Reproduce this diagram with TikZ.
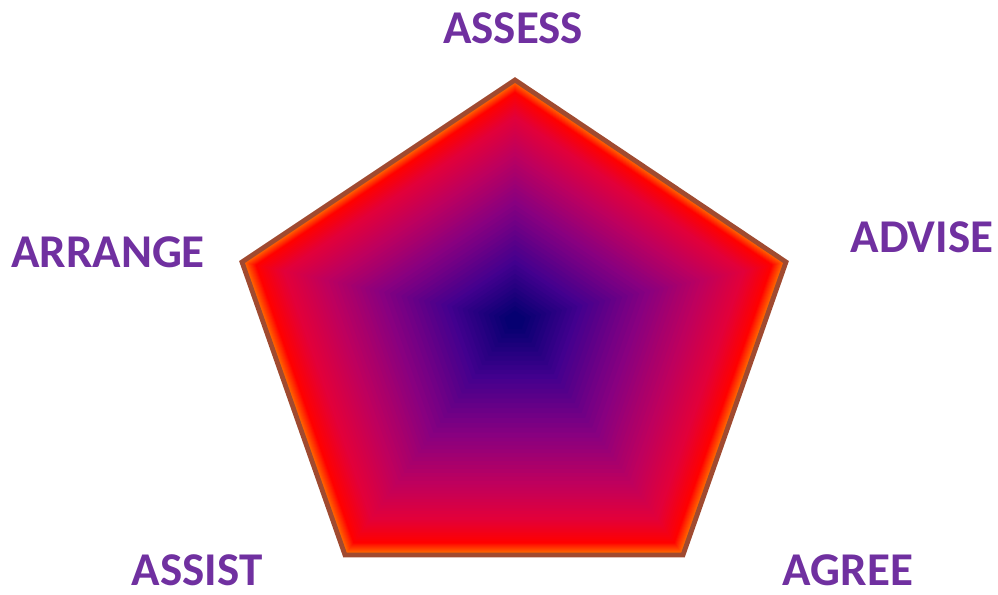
\documentclass[tikz,border=0pt]{standalone}
\usepackage{fontspec}
\setmainfont{Carlito}
\usetikzlibrary{calc}
\definecolor{plum}{HTML}{7030A0}
\definecolor{rust}{HTML}{A04A30}
\definecolor{glow}{HTML}{FF7A00}
\definecolor{flame}{HTML}{FF0000}
\definecolor{crimson}{HTML}{E2003A}
\definecolor{berry}{HTML}{BE005E}
\definecolor{grape}{HTML}{880080}
\definecolor{indigo}{HTML}{42008E}
\definecolor{midnight}{HTML}{00006E}
\tikzset{
  labeltext/.style={
    text=plum, font=\fontsize{23.5}{27}\selectfont\bfseries,
    inner sep=0pt, anchor=center
  },
  rimline/.style={
    draw=rust, line width=2.4pt, line join=miter
  },
}
% pentagon relative to its dark centre
\newcommand{\pentapath}{(0,-240) -- (271,-58) -- (168,235) -- (-170,235) -- (-273,-58) -- cycle}

\begin{document}
\begin{tikzpicture}[x=0.5pt, y=-0.5pt]
  \useasboundingbox (0,0) rectangle (998,595);
  \coordinate (mid) at (515,320);
  % layered fills for the contour gradient
  \foreach \ca/\cb/\sa/\sb in {glow/flame/1.00/0.95, flame/crimson/0.95/0.85,
      crimson/berry/0.85/0.70, berry/grape/0.70/0.50, grape/indigo/0.50/0.25,
      indigo/midnight/0.25/0.02} {
    \foreach \k in {0,...,11} {
      \pgfmathsetmacro{\s}{\sa+(\sb-\sa)*\k/12}
      \pgfmathsetmacro{\p}{100*\k/12}
      \fill[\cb!\p!\ca, shift={(mid)}, scale=\s] \pentapath;
    }
  }
  \draw[rimline, shift={(mid)}] \pentapath;
  \node[labeltext] (assess) at (513,28) {ASSESS};
  \node[labeltext] (advise) at (922,237) {ADVISE};
  \node[labeltext] (arrange) at (108,252) {ARRANGE};
  \node[labeltext] (assist) at (197,570) {ASSIST};
  \node[labeltext] (agree) at (848,570) {AGREE};
\end{tikzpicture}
\end{document}
